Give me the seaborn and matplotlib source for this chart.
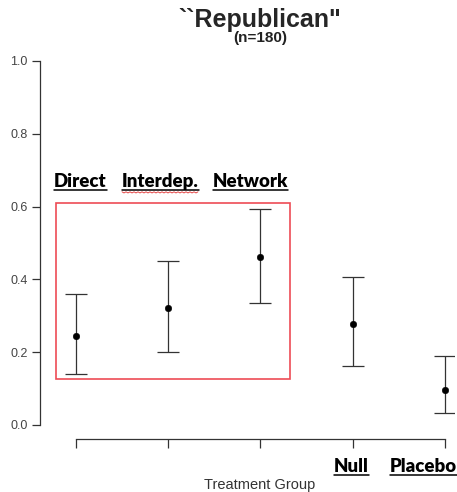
import numpy as np
import pandas as pd
import matplotlib
matplotlib.use("Agg")
import matplotlib.pyplot as plt
from matplotlib.patches import Rectangle
from matplotlib.lines import Line2D
import seaborn as sns

# Valeurs
groups = ["Direct", "Interdep.", "Network", "Null", "Placebo"]
estimate = [0.245, 0.320, 0.462, 0.277, 0.096]
ci_low = [0.140, 0.200, 0.335, 0.163, 0.033]
ci_high = [0.360, 0.450, 0.594, 0.407, 0.190]
y_ticks = [0.0, 0.2, 0.4, 0.6, 0.8, 1.0]

df = pd.DataFrame({"group": groups, "pos": np.arange(1, len(groups) + 1),
                   "est": estimate, "lo": ci_low, "hi": ci_high})

sns.set_style("white")
plt.rcParams["font.family"] = ["Liberation Sans", "DejaVu Sans"]

fig = plt.figure(figsize=(4.57, 4.92), dpi=100)
ax = fig.add_axes([40 / 457, 53 / 492, (454 - 40) / 457, (439 - 46.4) / 492])

ax.errorbar(df["pos"], df["est"],
            yerr=[df["est"] - df["lo"], df["hi"] - df["est"]],
            fmt="none", ecolor="#333333", elinewidth=0.9, capsize=7.8, capthick=0.9)
sns.scatterplot(data=df, x="pos", y="est", ax=ax, color="black", s=22,
                edgecolor="black", zorder=3)

ax.set_xlim(0.61, 5.1)
ax.set_ylim(-0.0385, 1.04)

# axes façon R
for s in ["top", "right"]:
    ax.spines[s].set_visible(False)
ax.spines["left"].set_bounds(0, 1)
ax.spines["bottom"].set_bounds(1, 5)
for s in ["left", "bottom"]:
    ax.spines[s].set_color("#333333")
    ax.spines[s].set_linewidth(0.9)

ax.set_yticks(y_ticks)
ax.set_yticklabels([f"{v:.1f}" for v in y_ticks])
ax.set_xticks(df["pos"])
ax.set_xticklabels([])
ax.tick_params(axis="y", direction="out", length=6, width=0.9, color="#333333",
               labelsize=9, labelcolor="#444444", left=True, pad=3)
ax.tick_params(axis="x", direction="out", length=6.5, width=0.9, color="#333333",
               bottom=True)
ax.set_xlabel("")
ax.set_ylabel("")

# cadre rouge autour des trois traitements
ax.add_patch(Rectangle((0.78, 0.126), 3.317 - 0.78, 0.61 - 0.126, fill=False,
                       edgecolor="#ee4b55", linewidth=1.2, zorder=1))

# titre
fig.text(260 / 457, 1 - 20 / 492, "``Republican\"", ha="center", va="center",
         fontsize=18, fontweight="bold")
fig.text(260 / 457, 1 - 38 / 492, "(n=180)", ha="center", va="center",
         fontsize=11, fontweight="bold", color="#222222")
fig.text(260 / 457, 1 - 485 / 492, "Treatment Group", ha="center", va="center",
         fontsize=10.5, color="#333333")

# libellés des groupes, soulignés
lab_font = ["Lato", "DejaVu Sans"]
label_pos = {"Direct": (54, 186.5), "Interdep.": (122, 186.5), "Network": (213, 186.5),
             "Null": (334, 471.5), "Placebo": (390, 471.5)}
texts = []
for g in groups:
    x, y = label_pos[g]
    t = fig.text(x / 457, 1 - y / 492, g, ha="left", va="baseline",
                 fontsize=13.4, fontweight="heavy", family=lab_font, color="black")
    texts.append((g, t))

fig.canvas.draw()
r = fig.canvas.get_renderer()
H = fig.bbox.height
for g, t in texts:
    bb = t.get_window_extent(r)
    yb = (H - (1 - t.get_position()[1]) * H) - 3.5
    fig.add_artist(Line2D([bb.x0 / fig.bbox.width, bb.x1 / fig.bbox.width],
                          [yb / H, yb / H], color="black", linewidth=1.1))
    if g == "Interdep.":
        xs = np.arange(bb.x0, bb.x1, 2.0)
        ys = yb - 1.8 + np.where(np.arange(len(xs)) % 2 == 0, 0.0, -1.2)
        fig.add_artist(Line2D(xs / fig.bbox.width, ys / H, color="#e03030",
                              linewidth=0.6))

fig.savefig("out.png", dpi=100)
